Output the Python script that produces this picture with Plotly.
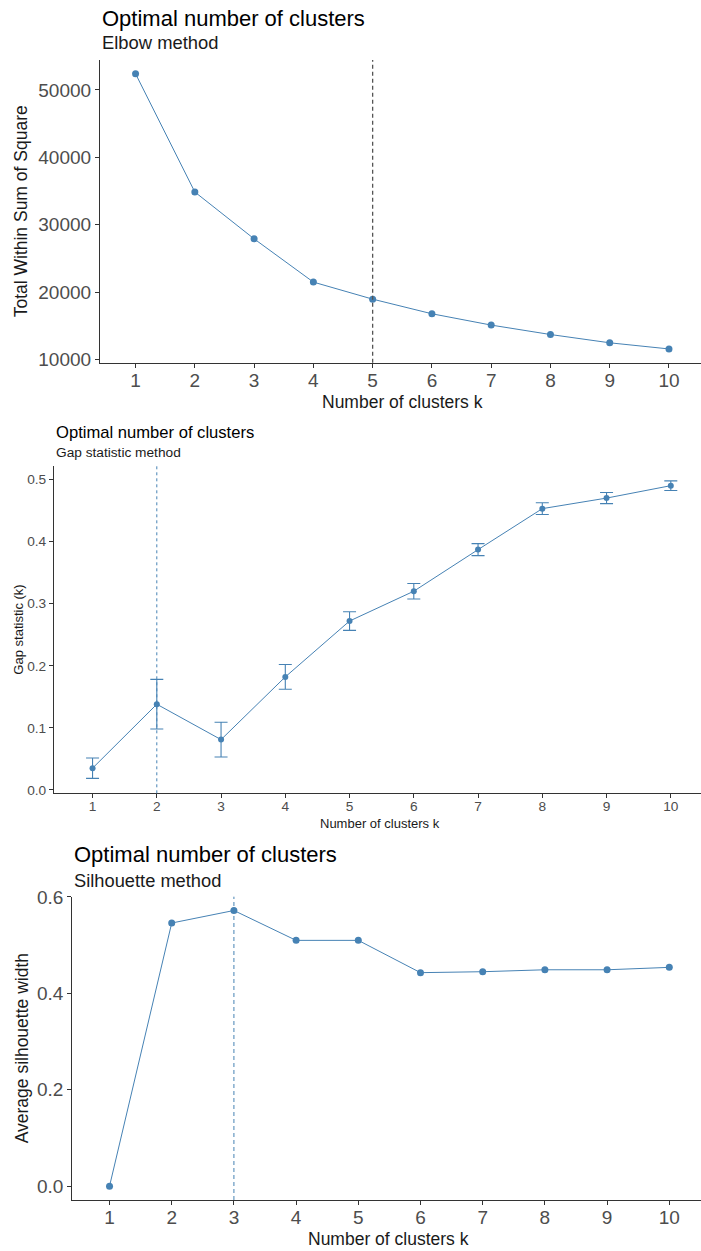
import plotly.graph_objects as go

# ---- data -------------------------------------------------------------
k_values = [1, 2, 3, 4, 5, 6, 7, 8, 9, 10]

wss = [52400, 34850, 27900, 21480, 18950, 16780, 15100, 13700, 12470, 11560]
elbow_k = 5

gap = [0.035, 0.138, 0.081, 0.182, 0.272, 0.320, 0.387, 0.453, 0.470, 0.490]
gap_se = [0.0165, 0.040, 0.028, 0.020, 0.015, 0.0125, 0.0097, 0.0094, 0.0090, 0.0077]
gap_k = 2

silhouette = [0.0, 0.546, 0.572, 0.510, 0.510, 0.443, 0.445, 0.449, 0.449, 0.454]
silhouette_k = 3

# ---- page geometry ----------------------------------------------------
W, H = 701, 1251
STEEL = "#4682B4"
FONT = "Liberation Sans, Arial, sans-serif"
AXIS_COL = "#333333"
TICK_COL = "#4D4D4D"


def px_x(p):
    return p / W


def px_y(p):
    return 1 - p / H


def expand(lo, hi, f=0.05):
    d = (hi - lo) * f
    return [lo - d, hi + d]


panels = [
    dict(left=100, top=60, bottom=362.7, xr=[0.4, 10.54],
         yr=expand(min(wss), max(wss)), tick=19, title=22, sub=18.4, atitle=17.5,
         title_y=18, sub_y=43, xt_y=401.5, yt_x=21,
         tickvals=[10000, 20000, 30000, 40000, 50000], fmt="d",
         t="Optimal number of clusters", s="Elbow method",
         ylab="Total Within Sum of Square"),
    dict(left=54, top=466, bottom=793.3, xr=[0.4, 10.47],
         yr=expand(min(g - s for g, s in zip(gap, gap_se)),
                   max(g + s for g, s in zip(gap, gap_se))),
         tick=13.7, title=16.6, sub=13.7, atitle=13,
         title_y=433, sub_y=453, xt_y=823, yt_x=19,
         tickvals=[0, 0.1, 0.2, 0.3, 0.4, 0.5], fmt=".1f",
         t="Optimal number of clusters", s="Gap statistic method",
         ylab="Gap statistic (k)"),
    dict(left=72.2, top=896.7, bottom=1200, xr=[0.4, 10.51],
         yr=expand(min(silhouette), max(silhouette)), tick=19, title=22, sub=18.3,
         atitle=17.5, title_y=854, sub_y=880, xt_y=1238.5, yt_x=22,
         tickvals=[0, 0.2, 0.4, 0.6], fmt=".1f",
         t="Optimal number of clusters", s="Silhouette method",
         ylab="Average silhouette width"),
]

fig = go.Figure()
annotations = []
shapes = []
layout_axes = {}

for i, p in enumerate(panels, start=1):
    xa = "x" if i == 1 else f"x{i}"
    ya = "y" if i == 1 else f"y{i}"
    xkey = "xaxis" if i == 1 else f"xaxis{i}"
    ykey = "yaxis" if i == 1 else f"yaxis{i}"
    # x labels sit close to the axis; the tick marks are drawn as minor ticks
    layout_axes[xkey] = dict(
        domain=[px_x(p["left"]), 1.0], anchor=ya, range=p["xr"],
        tickmode="array", tickvals=k_values, ticktext=[str(k) for k in k_values],
        showline=True, linecolor=AXIS_COL, linewidth=1.1,
        ticks="",
        minor=dict(tickmode="array", tickvals=k_values, ticks="outside",
                   ticklen=4, tickwidth=1, tickcolor=AXIS_COL, showgrid=False),
        showgrid=False, zeroline=False, automargin=False,
        tickfont=dict(family=FONT, size=p["tick"], color=TICK_COL),
    )
    layout_axes[ykey] = dict(
        domain=[px_y(p["bottom"]), px_y(p["top"])], anchor=xa, range=p["yr"],
        tickmode="array", tickvals=p["tickvals"], tickformat=p["fmt"],
        showline=True, linecolor=AXIS_COL, linewidth=1.1,
        ticks="outside", ticklen=4, tickwidth=1, tickcolor=AXIS_COL,
        showgrid=False, zeroline=False, automargin=False,
        tickfont=dict(family=FONT, size=p["tick"], color=TICK_COL),
    )
    # panel title and subtitle
    annotations.append(dict(
        text=p["t"], xref="paper", yref="paper", x=px_x(p["left"]), y=px_y(p["title_y"]),
        xanchor="left", yanchor="middle", showarrow=False,
        font=dict(family=FONT, size=p["title"], color="#000000")))
    annotations.append(dict(
        text=p["s"], xref="paper", yref="paper", x=px_x(p["left"]), y=px_y(p["sub_y"]),
        xanchor="left", yanchor="middle", showarrow=False,
        font=dict(family=FONT, size=p["sub"], color="#1a1a1a")))
    # axis titles
    annotations.append(dict(
        text="Number of clusters k", xref="paper", yref="paper",
        x=px_x((p["left"] + 705) / 2), y=px_y(p["xt_y"]),
        xanchor="center", yanchor="middle", showarrow=False,
        font=dict(family=FONT, size=p["atitle"], color="#1a1a1a")))
    annotations.append(dict(
        text=p["ylab"], xref="paper", yref="paper", textangle=-90,
        x=px_x(p["yt_x"]), y=px_y((p["top"] + p["bottom"]) / 2),
        xanchor="center", yanchor="middle", showarrow=False,
        font=dict(family=FONT, size=p["atitle"], color="#1a1a1a")))

# elbow
fig.add_trace(go.Scatter(
    x=k_values, y=wss, mode="lines+markers", xaxis="x", yaxis="y",
    line=dict(color=STEEL, width=1), marker=dict(color=STEEL, size=7),
    showlegend=False))
shapes.append(dict(type="line", xref="x", yref="y domain", x0=elbow_k, x1=elbow_k,
                   y0=0, y1=1, line=dict(color="#555555", width=1.3, dash="4px,3px")))

# gap statistic
fig.add_trace(go.Scatter(
    x=k_values, y=gap, mode="lines+markers", xaxis="x2", yaxis="y2",
    line=dict(color=STEEL, width=1), marker=dict(color=STEEL, size=6),
    error_y=dict(type="data", array=gap_se, visible=True, color=STEEL,
                 thickness=1.1, width=6.5),
    showlegend=False))
shapes.append(dict(type="line", xref="x2", yref="y2 domain", x0=gap_k, x1=gap_k,
                   y0=0, y1=1, line=dict(color=STEEL, width=1, dash="3px,3px")))

# silhouette
fig.add_trace(go.Scatter(
    x=k_values, y=silhouette, mode="lines+markers", xaxis="x3", yaxis="y3",
    line=dict(color=STEEL, width=1), marker=dict(color=STEEL, size=7),
    showlegend=False))
shapes.append(dict(type="line", xref="x3", yref="y3 domain", x0=silhouette_k,
                   x1=silhouette_k, y0=0, y1=1,
                   line=dict(color=STEEL, width=1, dash="4px,3px")))

fig.update_layout(
    template="none",
    width=W, height=H,
    margin=dict(l=0, r=0, t=0, b=0),
    paper_bgcolor="white", plot_bgcolor="white",
    annotations=annotations, shapes=shapes,
    showlegend=False,
    **layout_axes,
)

fig.write_html("out.html", config={"displayModeBar": False})
